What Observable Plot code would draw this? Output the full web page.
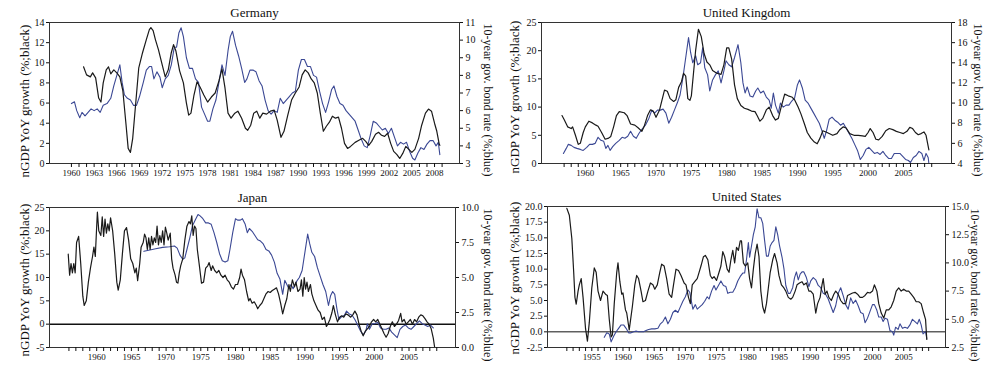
<!DOCTYPE html>
<html><head><meta charset="utf-8">
<script src="https://cdn.jsdelivr.net/npm/d3@7"></script>
<script src="https://cdn.jsdelivr.net/npm/@observablehq/plot@0.6"></script>
<style>
body{margin:0;background:#fff;}
#wrap{position:relative;width:1006px;height:375px;overflow:hidden;background:#fff;}
.p{position:absolute;}
.p svg{overflow:visible;}
.lab{position:absolute;width:220px;height:16px;line-height:16px;text-align:center;white-space:nowrap;
  font-family:'Liberation Serif','DejaVu Serif',serif;color:#111;}
</style></head><body><div id="wrap"></div>
<script>
// ---------- data: [year, value] ----------
const germanyGdp = [[1961.6,9.6],[1962.0,8.8],[1962.5,8.6],[1962.8,9.0],[1963.2,8.5],[1963.6,6.5],[1963.9,6.1],[1964.2,8.0],[1964.6,9.3],[1964.9,9.6],[1965.2,8.9],[1965.6,9.3],[1966.0,9.0],[1966.4,8.6],[1966.8,7.2],[1967.2,4.0],[1967.5,1.5],[1967.8,1.1],[1968.1,2.5],[1968.5,6.0],[1968.9,9.5],[1969.4,11.0],[1969.9,12.3],[1970.3,13.3],[1970.5,13.5],[1970.8,13.2],[1971.1,12.3],[1971.5,11.3],[1972.0,9.8],[1972.4,8.6],[1972.8,9.3],[1973.2,11.0],[1973.5,11.8],[1973.8,11.2],[1974.3,9.2],[1974.8,8.0],[1975.2,6.0],[1975.5,4.8],[1975.8,5.0],[1976.2,6.8],[1976.6,8.1],[1977.0,7.6],[1977.5,6.8],[1978.0,6.1],[1978.5,6.6],[1979.0,7.0],[1979.5,8.2],[1979.9,9.4],[1980.3,7.5],[1980.7,5.0],[1981.1,4.5],[1981.6,5.0],[1982.0,5.2],[1982.5,4.5],[1983.0,3.5],[1983.3,3.3],[1983.7,3.8],[1984.1,5.0],[1984.5,5.2],[1984.9,4.5],[1985.3,5.0],[1985.8,4.9],[1986.3,5.2],[1986.8,5.3],[1987.2,4.3],[1987.7,2.6],[1988.1,3.2],[1988.6,4.8],[1989.1,6.3],[1989.6,7.0],[1990.1,7.6],[1990.5,8.8],[1990.9,9.3],[1991.3,9.0],[1991.7,8.4],[1992.1,8.0],[1992.5,7.0],[1992.9,5.0],[1993.3,3.2],[1993.7,3.7],[1994.1,4.1],[1994.5,4.7],[1994.9,4.5],[1995.3,4.6],[1995.7,3.5],[1996.1,2.0],[1996.5,1.5],[1996.9,1.7],[1997.5,2.1],[1998.0,2.3],[1998.5,2.5],[1998.9,2.2],[1999.3,1.8],[1999.7,2.2],[2000.2,2.9],[2000.6,3.1],[2001.0,2.8],[2001.4,2.7],[2001.8,3.0],[2002.2,2.0],[2002.6,1.2],[2003.0,0.9],[2003.4,0.5],[2003.8,1.0],[2004.2,1.7],[2004.6,1.4],[2005.0,1.1],[2005.4,1.4],[2005.9,2.5],[2006.3,3.8],[2006.8,5.0],[2007.2,5.4],[2007.6,5.2],[2008.0,4.0],[2008.3,3.2],[2008.6,2.0],[2008.7,1.8]];
const germanyBond = [[1960.0,6.4],[1960.4,6.5],[1960.7,6.0],[1961.1,5.6],[1961.4,5.9],[1961.8,5.7],[1962.2,5.9],[1962.6,6.1],[1963.0,6.0],[1963.4,6.1],[1963.8,5.9],[1964.2,6.3],[1964.7,6.4],[1965.2,6.7],[1965.6,7.4],[1966.0,8.0],[1966.4,8.6],[1966.7,7.6],[1967.0,6.9],[1967.4,6.7],[1967.8,6.6],[1968.2,6.3],[1968.6,6.3],[1969.0,6.8],[1969.5,7.6],[1969.9,8.3],[1970.3,8.5],[1970.6,8.5],[1970.9,7.8],[1971.3,8.2],[1971.7,7.9],[1972.0,7.3],[1972.4,7.8],[1972.8,8.0],[1973.2,8.6],[1973.6,9.6],[1973.9,9.6],[1974.2,10.4],[1974.5,10.7],[1974.8,10.2],[1975.2,9.0],[1975.6,8.4],[1976.0,8.4],[1976.4,7.8],[1976.8,7.6],[1977.2,6.2],[1977.6,5.8],[1978.0,5.4],[1978.3,5.4],[1978.7,6.1],[1979.1,6.6],[1979.5,7.6],[1979.9,8.6],[1980.3,8.0],[1980.7,9.4],[1981.0,10.2],[1981.3,10.5],[1981.7,9.7],[1982.1,9.1],[1982.5,8.4],[1982.9,7.6],[1983.2,7.8],[1983.6,8.3],[1984.0,8.3],[1984.4,8.2],[1984.8,7.7],[1985.2,7.4],[1985.6,6.6],[1986.0,6.0],[1986.4,5.8],[1986.8,6.0],[1987.2,5.9],[1987.6,6.7],[1988.0,6.4],[1988.4,6.6],[1988.8,6.8],[1989.2,7.0],[1989.6,7.1],[1990.0,8.3],[1990.4,8.9],[1990.8,8.9],[1991.2,8.5],[1991.6,8.5],[1992.0,8.0],[1992.4,7.9],[1992.8,7.1],[1993.2,6.4],[1993.6,5.9],[1994.0,6.5],[1994.4,7.2],[1994.7,7.4],[1995.1,6.8],[1995.5,6.4],[1995.9,6.3],[1996.3,6.0],[1996.7,5.8],[1997.1,5.6],[1997.5,5.4],[1997.9,4.9],[1998.3,4.4],[1998.7,4.0],[1999.1,3.9],[1999.5,4.6],[1999.9,5.4],[2000.3,5.3],[2000.7,5.1],[2001.1,4.9],[2001.5,5.0],[2001.9,4.7],[2002.3,5.0],[2002.7,4.5],[2003.1,4.0],[2003.5,4.2],[2003.9,4.1],[2004.3,4.2],[2004.7,3.7],[2005.1,3.3],[2005.4,3.2],[2005.8,3.6],[2006.2,3.9],[2006.6,3.8],[2007.0,4.1],[2007.4,4.3],[2007.8,4.3],[2008.2,4.0],[2008.5,4.2],[2008.7,3.5]];

const ukGdp = [[1956.7,8.5],[1957.0,7.8],[1957.5,6.5],[1958.0,6.2],[1958.2,6.5],[1958.6,5.0],[1959.0,3.4],[1959.3,3.6],[1959.7,5.5],[1960.0,6.5],[1960.5,7.5],[1961.0,7.2],[1961.5,6.8],[1961.8,6.6],[1962.3,5.5],[1962.8,4.3],[1963.3,4.5],[1963.6,4.8],[1964.0,6.5],[1964.4,8.5],[1964.8,9.2],[1965.5,9.0],[1965.9,8.5],[1966.4,7.0],[1967.0,6.8],[1967.5,6.3],[1968.0,5.7],[1968.3,6.5],[1968.8,8.5],[1969.2,9.5],[1969.6,9.3],[1970.0,8.2],[1970.5,9.5],[1970.8,11.0],[1971.2,13.0],[1971.6,12.8],[1972.0,11.5],[1972.5,11.0],[1972.8,11.3],[1973.2,13.5],[1973.6,14.5],[1973.9,16.0],[1974.2,15.5],[1974.5,11.5],[1974.8,11.2],[1975.0,12.0],[1975.3,16.0],[1975.6,20.0],[1976.0,23.8],[1976.4,22.5],[1976.8,19.5],[1977.2,18.0],[1977.6,17.5],[1978.0,16.5],[1978.6,16.0],[1979.2,15.8],[1979.6,17.5],[1980.0,20.5],[1980.3,20.5],[1980.7,18.5],[1981.1,14.0],[1981.5,11.5],[1982.0,10.3],[1982.5,9.8],[1983.0,9.6],[1983.5,9.3],[1984.0,9.2],[1984.3,8.5],[1984.7,7.5],[1985.1,8.0],[1985.6,9.5],[1986.0,10.0],[1986.5,8.5],[1986.9,7.7],[1987.3,8.0],[1987.7,10.0],[1988.2,12.3],[1988.7,12.0],[1989.2,11.8],[1989.6,11.3],[1990.1,10.0],[1990.5,8.8],[1991.0,7.0],[1991.4,5.5],[1991.9,4.5],[1992.4,3.8],[1992.8,3.5],[1993.2,4.5],[1993.6,5.8],[1994.2,5.5],[1995.0,5.0],[1995.6,5.3],[1996.0,6.0],[1996.5,6.5],[1996.9,6.3],[1997.4,5.3],[1998.0,5.0],[1998.6,5.0],[1999.2,4.9],[1999.6,4.8],[2000.0,5.5],[2000.3,6.2],[2000.7,5.5],[2001.1,4.3],[2001.5,4.2],[2002.0,4.8],[2002.5,5.8],[2003.0,6.2],[2003.5,6.0],[2004.0,5.7],[2004.5,5.5],[2005.0,5.3],[2005.5,5.7],[2005.9,6.4],[2006.3,6.2],[2006.7,5.5],[2007.1,5.1],[2007.5,5.3],[2007.9,5.6],[2008.2,5.0],[2008.6,2.4]];
const ukBond = [[1956.9,5.0],[1957.3,5.5],[1957.6,5.9],[1958.0,5.8],[1958.4,5.6],[1958.8,5.5],[1959.3,5.4],[1959.7,5.3],[1960.2,5.6],[1960.6,5.9],[1961.0,5.9],[1961.4,6.0],[1961.8,6.6],[1962.2,6.3],[1962.6,6.2],[1962.9,5.5],[1963.2,5.8],[1963.5,5.3],[1963.9,5.7],[1964.3,6.0],[1964.8,6.3],[1965.2,6.6],[1965.6,6.5],[1966.0,6.7],[1966.4,7.2],[1966.8,6.7],[1967.2,6.5],[1967.6,7.0],[1968.0,7.4],[1968.5,7.8],[1969.0,8.5],[1969.4,9.3],[1969.8,9.0],[1970.2,9.3],[1970.6,9.3],[1971.0,9.4],[1971.4,9.0],[1971.8,8.0],[1972.2,8.6],[1972.6,9.3],[1973.0,10.0],[1973.4,10.8],[1973.8,12.5],[1974.2,14.5],[1974.6,16.5],[1974.9,15.0],[1975.2,14.0],[1975.6,14.7],[1975.9,13.8],[1976.3,14.0],[1976.6,15.5],[1976.9,13.5],[1977.3,12.8],[1977.6,11.2],[1978.0,12.3],[1978.4,12.8],[1978.8,13.2],[1979.2,12.0],[1979.6,13.2],[1979.9,14.2],[1980.3,13.8],[1980.7,13.6],[1981.1,14.5],[1981.6,15.8],[1982.0,14.0],[1982.3,12.0],[1982.6,11.0],[1982.9,11.6],[1983.3,10.7],[1983.7,10.6],[1984.1,11.2],[1984.4,11.5],[1984.8,11.0],[1985.2,11.2],[1985.6,10.6],[1986.0,10.3],[1986.3,9.5],[1986.6,11.0],[1986.9,9.8],[1987.3,9.0],[1987.6,10.0],[1988.0,9.6],[1988.4,9.8],[1988.8,9.8],[1989.2,10.2],[1989.6,10.5],[1990.0,11.8],[1990.3,12.3],[1990.7,11.5],[1991.1,10.3],[1991.5,10.0],[1991.9,9.5],[1992.3,9.0],[1992.7,8.5],[1993.1,8.0],[1993.5,7.2],[1993.8,6.5],[1994.1,7.2],[1994.5,8.4],[1994.9,8.6],[1995.3,8.3],[1995.7,8.1],[1996.1,7.8],[1996.5,8.0],[1996.9,7.5],[1997.3,7.0],[1997.7,6.5],[1998.1,5.9],[1998.5,5.3],[1998.9,4.4],[1999.3,4.8],[1999.7,5.4],[2000.1,5.6],[2000.5,5.3],[2000.9,5.0],[2001.3,5.1],[2001.7,4.9],[2002.1,5.2],[2002.5,4.8],[2002.9,4.5],[2003.3,4.5],[2003.7,5.0],[2004.1,5.0],[2004.5,5.0],[2004.9,4.7],[2005.3,4.4],[2005.7,4.3],[2006.0,4.1],[2006.4,4.6],[2006.8,4.8],[2007.2,5.2],[2007.6,5.0],[2007.9,4.3],[2008.2,5.0],[2008.5,4.6],[2008.6,4.0]];

const japanGdp = [[1955.9,15.0],[1956.1,10.5],[1956.3,13.0],[1956.5,11.0],[1956.7,13.0],[1956.9,11.0],[1957.1,17.5],[1957.4,18.8],[1957.7,13.0],[1958.0,6.0],[1958.2,4.0],[1958.5,5.0],[1958.8,9.0],[1959.1,12.0],[1959.4,14.5],[1959.6,16.5],[1959.8,14.5],[1960.0,21.0],[1960.1,24.0],[1960.3,20.0],[1960.6,19.0],[1960.8,23.0],[1961.0,18.8],[1961.2,22.5],[1961.4,19.5],[1961.6,21.5],[1961.8,20.0],[1962.0,22.8],[1962.3,20.0],[1962.6,15.0],[1962.9,9.0],[1963.1,7.3],[1963.4,9.5],[1963.7,15.0],[1964.0,20.0],[1964.3,20.7],[1964.6,18.0],[1964.9,14.0],[1965.2,13.0],[1965.5,11.0],[1965.7,12.0],[1965.9,9.3],[1966.2,13.0],[1966.4,16.5],[1966.7,17.5],[1966.9,19.3],[1967.1,18.5],[1967.3,16.0],[1967.5,18.5],[1967.7,16.0],[1967.9,18.8],[1968.1,17.0],[1968.3,18.5],[1968.5,17.5],[1968.7,21.0],[1968.9,17.0],[1969.1,19.0],[1969.3,17.5],[1969.5,20.0],[1969.7,17.0],[1969.9,20.8],[1970.1,19.5],[1970.3,18.0],[1970.6,19.5],[1970.8,14.0],[1971.0,12.0],[1971.3,10.5],[1971.5,9.0],[1971.7,8.8],[1971.9,11.0],[1972.1,12.5],[1972.4,14.0],[1972.7,18.0],[1973.0,21.0],[1973.3,22.0],[1973.5,21.5],[1973.7,23.2],[1973.9,19.0],[1974.1,21.0],[1974.3,20.5],[1974.5,16.0],[1974.8,12.5],[1975.1,8.8],[1975.4,9.0],[1975.7,12.0],[1976.0,12.5],[1976.2,13.2],[1976.5,11.5],[1976.7,12.5],[1977.0,11.5],[1977.3,11.0],[1977.6,11.5],[1977.9,10.5],[1978.2,10.0],[1978.5,10.5],[1978.8,9.5],[1979.1,9.0],[1979.4,8.0],[1979.7,7.5],[1980.0,8.5],[1980.3,8.5],[1980.6,10.0],[1980.8,11.8],[1981.0,10.5],[1981.3,9.5],[1981.6,7.0],[1981.9,5.0],[1982.1,5.5],[1982.4,4.5],[1982.7,4.8],[1983.0,4.0],[1983.2,3.3],[1983.5,4.0],[1983.8,4.5],[1984.1,5.5],[1984.4,6.5],[1984.7,7.0],[1985.0,6.8],[1985.3,7.2],[1985.6,7.5],[1985.9,7.8],[1986.2,6.5],[1986.5,4.5],[1986.8,2.2],[1987.1,4.0],[1987.4,5.5],[1987.7,8.5],[1987.9,7.0],[1988.2,9.5],[1988.5,8.0],[1988.7,9.0],[1989.0,7.0],[1989.3,7.5],[1989.5,9.5],[1989.7,6.0],[1989.9,10.0],[1990.1,7.5],[1990.3,9.0],[1990.5,7.0],[1990.8,8.5],[1991.0,6.5],[1991.3,5.0],[1991.6,4.0],[1991.9,3.0],[1992.2,2.5],[1992.5,1.0],[1992.8,1.5],[1993.1,-0.5],[1993.3,0.0],[1993.6,1.0],[1993.9,2.5],[1994.1,4.0],[1994.4,2.0],[1994.7,0.5],[1995.0,1.5],[1995.3,1.8],[1995.6,1.5],[1995.9,2.2],[1996.2,2.0],[1996.6,1.5],[1996.9,2.0],[1997.2,2.8],[1997.5,2.0],[1997.8,0.0],[1998.1,-1.5],[1998.4,-2.5],[1998.7,-1.5],[1999.0,-1.0],[1999.3,-0.5],[1999.6,0.5],[1999.9,1.0],[2000.2,0.5],[2000.5,1.0],[2000.8,0.0],[2001.1,-1.0],[2001.4,-2.0],[2001.7,-2.8],[2002.0,-2.0],[2002.3,-0.5],[2002.6,0.5],[2002.9,-0.5],[2003.2,0.0],[2003.5,0.8],[2003.8,2.3],[2004.0,0.5],[2004.3,1.0],[2004.6,0.0],[2004.9,0.5],[2005.2,1.0],[2005.5,0.0],[2005.8,1.0],[2006.1,0.5],[2006.4,1.5],[2006.7,2.0],[2007.0,1.8],[2007.3,1.2],[2007.6,0.5],[2007.9,0.0],[2008.2,-1.0],[2008.5,-3.0],[2008.7,-5.0]];
const japanBond = [[1966.8,6.87],[1967.5,6.95],[1968.5,7.05],[1969.5,7.15],[1970.5,7.2],[1971.2,7.25],[1971.6,7.1],[1972.0,6.6],[1972.4,6.3],[1972.7,6.4],[1973.0,7.0],[1973.4,7.8],[1973.8,8.7],[1974.2,9.1],[1974.6,9.5],[1974.9,9.4],[1975.3,9.2],[1975.7,8.9],[1976.1,8.9],[1976.5,8.8],[1976.9,8.2],[1977.3,7.5],[1977.7,6.7],[1978.1,6.2],[1978.5,6.1],[1978.9,6.2],[1979.2,7.0],[1979.6,8.2],[1980.0,9.2],[1980.3,9.1],[1980.7,9.1],[1981.0,9.2],[1981.4,8.8],[1981.7,8.2],[1982.0,8.5],[1982.4,8.3],[1982.8,8.0],[1983.2,7.7],[1983.6,7.6],[1984.0,7.4],[1984.4,7.0],[1984.8,6.9],[1985.2,6.6],[1985.6,6.1],[1986.0,5.3],[1986.4,4.9],[1986.8,3.8],[1987.1,4.8],[1987.4,4.5],[1987.7,4.2],[1988.0,4.5],[1988.3,4.2],[1988.6,4.5],[1988.9,4.8],[1989.2,5.0],[1989.6,5.5],[1990.0,6.8],[1990.4,8.1],[1990.7,7.4],[1991.0,6.8],[1991.4,6.5],[1991.8,5.7],[1992.2,5.1],[1992.6,4.5],[1993.0,4.0],[1993.4,3.0],[1993.7,3.7],[1994.0,4.0],[1994.3,3.8],[1994.6,2.8],[1994.9,2.0],[1995.3,2.2],[1995.7,2.3],[1996.0,2.6],[1996.4,2.4],[1996.8,2.3],[1997.2,2.0],[1997.6,1.6],[1998.0,1.2],[1998.4,0.9],[1998.8,1.2],[1999.0,1.7],[1999.3,1.3],[1999.7,1.7],[2000.1,1.7],[2000.5,1.8],[2000.9,1.4],[2001.3,1.3],[2001.7,1.3],[2002.1,1.4],[2002.5,1.1],[2002.9,0.9],[2003.3,0.7],[2003.7,1.3],[2004.1,1.5],[2004.5,1.6],[2004.9,1.4],[2005.3,1.3],[2005.7,1.5],[2006.1,1.7],[2006.5,1.9],[2006.9,1.7],[2007.3,1.6],[2007.7,1.5],[2008.1,1.6],[2008.5,1.4]];

const usGdp = [[1951.0,19.7],[1951.4,18.6],[1951.8,14.9],[1952.1,9.5],[1952.3,5.5],[1952.5,4.4],[1952.8,6.5],[1953.0,7.5],[1953.3,8.5],[1953.6,5.5],[1954.0,0.5],[1954.3,-1.5],[1954.6,1.5],[1955.0,7.0],[1955.4,10.2],[1955.7,9.5],[1956.0,6.5],[1956.4,5.0],[1956.8,6.5],[1957.2,6.0],[1957.5,5.8],[1957.8,2.0],[1958.1,-0.8],[1958.3,-0.5],[1958.6,4.5],[1959.0,9.5],[1959.2,11.0],[1959.5,8.0],[1959.8,6.0],[1960.0,6.2],[1960.4,3.5],[1960.6,3.0],[1961.0,0.3],[1961.5,4.0],[1961.9,7.5],[1962.2,9.0],[1962.5,8.5],[1962.9,6.5],[1963.2,4.8],[1963.6,5.0],[1964.0,6.5],[1964.4,7.8],[1964.8,7.5],[1965.1,6.8],[1965.5,7.5],[1965.9,9.5],[1966.2,10.8],[1966.6,10.5],[1967.0,8.5],[1967.4,6.0],[1967.8,5.5],[1968.1,7.5],[1968.5,10.0],[1968.9,9.8],[1969.3,9.0],[1969.8,7.8],[1970.1,7.5],[1970.5,5.5],[1970.8,4.5],[1971.1,7.5],[1971.5,8.0],[1971.9,8.5],[1972.2,9.5],[1972.5,10.5],[1972.9,12.0],[1973.2,12.2],[1973.6,11.5],[1974.0,9.0],[1974.3,8.5],[1974.6,8.8],[1975.0,8.2],[1975.4,9.5],[1975.7,10.5],[1976.0,12.8],[1976.3,12.0],[1976.7,10.0],[1977.0,9.5],[1977.3,11.5],[1977.6,13.0],[1977.9,11.0],[1978.2,13.5],[1978.5,13.0],[1978.8,14.5],[1979.0,14.5],[1979.3,11.0],[1979.6,10.5],[1980.0,11.0],[1980.3,8.5],[1980.6,7.0],[1980.9,10.0],[1981.2,12.5],[1981.5,14.0],[1981.8,12.0],[1982.1,6.5],[1982.4,4.0],[1982.7,3.0],[1983.0,4.5],[1983.3,7.0],[1983.6,9.5],[1984.0,11.5],[1984.3,12.5],[1984.7,11.0],[1985.0,9.0],[1985.4,7.5],[1985.8,7.0],[1986.1,6.5],[1986.5,5.5],[1986.9,5.2],[1987.2,5.5],[1987.6,6.5],[1987.9,7.5],[1988.3,7.8],[1988.7,8.0],[1989.0,7.5],[1989.4,7.8],[1989.8,6.5],[1990.1,6.5],[1990.5,6.0],[1990.9,3.0],[1991.2,4.5],[1991.6,5.5],[1991.9,7.5],[1992.1,8.5],[1992.4,6.0],[1992.7,6.5],[1993.0,5.5],[1993.4,5.0],[1993.8,6.0],[1994.1,6.5],[1994.5,6.0],[1994.9,5.0],[1995.3,4.5],[1995.7,4.5],[1996.0,5.8],[1996.4,6.0],[1996.8,6.2],[1997.2,6.3],[1997.6,6.0],[1998.0,5.5],[1998.4,5.5],[1998.8,5.8],[1999.2,6.3],[1999.6,6.2],[2000.0,6.5],[2000.3,7.5],[2000.7,6.5],[2001.0,4.5],[2001.4,3.0],[2001.8,2.2],[2002.2,3.5],[2002.6,3.5],[2003.0,4.0],[2003.4,5.0],[2003.8,6.5],[2004.2,7.0],[2004.6,6.5],[2005.0,6.8],[2005.4,6.5],[2005.8,6.5],[2006.2,6.0],[2006.6,5.5],[2007.0,4.8],[2007.4,4.8],[2007.8,4.5],[2008.2,3.0],[2008.5,2.0],[2008.7,-1.2]];
const usBond = [[1957.0,3.4],[1957.4,3.8],[1957.8,3.7],[1958.1,3.0],[1958.5,3.5],[1958.9,3.9],[1959.3,4.2],[1959.7,4.5],[1960.1,4.5],[1960.5,4.2],[1960.9,3.8],[1961.3,3.8],[1961.7,3.9],[1962.1,3.95],[1962.5,3.9],[1962.9,3.9],[1963.3,3.9],[1963.7,4.0],[1964.1,4.1],[1964.6,4.15],[1965.1,4.15],[1965.6,4.2],[1966.0,4.6],[1966.4,4.8],[1966.8,5.2],[1967.2,4.6],[1967.6,5.0],[1968.0,5.6],[1968.4,5.8],[1968.8,5.6],[1969.2,6.1],[1969.6,6.6],[1970.0,7.0],[1970.4,7.6],[1970.7,7.4],[1971.0,6.5],[1971.2,5.9],[1971.6,6.3],[1971.9,5.9],[1972.3,6.1],[1972.7,6.3],[1973.1,6.6],[1973.5,7.0],[1973.8,6.8],[1974.2,7.5],[1974.6,8.0],[1974.9,7.6],[1975.3,8.0],[1975.7,8.4],[1976.1,8.0],[1976.5,7.9],[1976.8,7.3],[1977.2,7.4],[1977.6,7.4],[1978.0,7.8],[1978.4,8.4],[1978.8,8.8],[1979.2,9.1],[1979.5,9.1],[1979.8,10.3],[1980.1,11.8],[1980.3,10.5],[1980.6,11.5],[1980.9,12.5],[1981.2,13.2],[1981.5,14.8],[1981.8,14.0],[1982.1,14.0],[1982.4,13.5],[1982.7,12.0],[1983.0,10.6],[1983.3,10.6],[1983.6,11.5],[1983.9,11.8],[1984.2,12.0],[1984.5,13.2],[1984.8,12.5],[1985.1,11.5],[1985.5,10.5],[1985.8,9.5],[1986.1,8.0],[1986.5,7.3],[1986.8,7.3],[1987.2,7.8],[1987.5,8.7],[1987.8,9.2],[1988.1,8.5],[1988.4,9.0],[1988.7,9.2],[1989.0,9.2],[1989.4,8.7],[1989.8,7.9],[1990.1,8.4],[1990.5,8.7],[1990.9,8.5],[1991.3,8.0],[1991.7,7.8],[1992.1,7.3],[1992.5,7.2],[1992.9,6.8],[1993.3,6.2],[1993.7,5.6],[1994.1,6.2],[1994.5,7.3],[1994.9,7.8],[1995.3,7.1],[1995.7,6.3],[1996.1,5.9],[1996.5,6.9],[1996.9,6.4],[1997.3,6.7],[1997.7,6.2],[1998.1,5.6],[1998.5,5.5],[1998.8,4.7],[1999.2,5.1],[1999.6,5.7],[2000.0,6.3],[2000.3,6.3],[2000.7,5.8],[2001.0,5.2],[2001.4,5.2],[2001.7,4.8],[2002.0,5.1],[2002.4,5.0],[2002.8,4.0],[2003.2,3.9],[2003.4,3.6],[2003.7,4.3],[2004.1,4.1],[2004.4,4.6],[2004.8,4.2],[2005.2,4.3],[2005.6,4.2],[2006.0,4.5],[2006.4,5.0],[2006.8,4.8],[2007.2,4.6],[2007.5,5.0],[2007.8,4.5],[2008.1,3.7],[2008.5,3.9],[2008.7,3.3]];

// ---------- tick values / labels ----------
const germanyXLabels = d3.range(1960, 2009, 3);
const fiveYearLabels = d3.range(1955, 2006, 5);
const germanyLeftTicks = [0,2,4,6,8,10,12,14];
const germanyRightTicks = [3,4,5,6,7,8,9,10,11];
const ukLeftTicks = [0,5,10,15,20,25];
const ukRightTicks = [4,6,8,10,12,14,16,18];
const japanLeftTicks = [-5,0,5,10,15,20,25];
const japanRightTicks = [0,2.5,5,7.5,10];
const usLeftTicks = [-2.5,0,2.5,5,7.5,10,12.5,15,17.5,20];
const usRightTicks = [2.5,5,7.5,10,12.5,15];
const titles = ["Germany", "United Kingdom", "Japan", "United States"];
const leftLabel = "nGDP YoY growth (%;black)";
const rightLabel = "10-year gov. bond rate (%;blue)";

const BLUE = "#3b4894";
const FONT = "'Liberation Serif', 'DejaVu Serif', serif";
const intF = d => String(Math.round(d));
const oneF = d => (Math.round(d * 100) / 100).toFixed(1);
const wrap = document.getElementById("wrap");

function addLabel(text, cx, cy, angle, size) {
  const el = document.createElement("div");
  el.className = "lab";
  el.textContent = text;
  el.style.left = (cx - 110) + "px";
  el.style.top = (cy - 8) + "px";
  el.style.fontSize = size + "px";
  el.style.transform = `rotate(${angle}deg)`;
  wrap.appendChild(el);
}

function panel(c) {
  const [l0, l1] = c.left, [r0, r1] = c.right;
  const toL = v => l0 + (v - r0) / (r1 - r0) * (l1 - l0);
  const toR = v => r0 + (v - l0) / (l1 - l0) * (r1 - r0);
  const years = d3.range(c.tickFrom, c.tickTo + 1);
  const lab = new Set(c.xLabels);
  const svg = Plot.plot({
    width: 503, height: c.height,
    marginTop: c.m[0], marginRight: c.m[1], marginBottom: c.m[2], marginLeft: c.m[3],
    style: {fontFamily: FONT, fontSize: "9px", background: "transparent", color: "#111"},
    x: {domain: c.xDomain},
    y: {domain: c.left},
    marks: [
      c.zero ? Plot.ruleY([0], {stroke: "#111", strokeWidth: c.zeroW}) : null,
      Plot.line(c.bond, {x: d => d[0], y: d => toL(d[1]), stroke: BLUE, strokeWidth: 1.1}),
      Plot.line(c.gdp, {x: d => d[0], y: d => d[1], stroke: "#1a1a1a", strokeWidth: 1.2}),
      Plot.frame({stroke: "#333", strokeWidth: 1}),
      Plot.axisX(years, {tickSize: 4, tickPadding: 2, tickFormat: d => lab.has(d) ? String(d) : "", label: null, fontSize: 9}),
      Plot.axisY(c.leftTicks, {anchor: "left", tickSize: 3, tickPadding: 2, tickFormat: c.fmtL, label: null, fontSize: 10}),
      Plot.axisY(c.rightTicks.map(toL), {anchor: "right", tickSize: 3, tickPadding: 3, tickFormat: d => c.fmtR(toR(d)), label: null, fontSize: 10}),
      Plot.text([c.title], {text: d => d, frameAnchor: "top", dy: -10, lineAnchor: "middle", fontSize: 13})
    ]
  });
  const div = document.createElement("div");
  div.className = "p";
  div.style.left = c.pos[0] + "px";
  div.style.top = c.pos[1] + "px";
  div.appendChild(svg);
  wrap.appendChild(div);
  addLabel(leftLabel, c.lab[0], c.lab[1], -90, 13);
  addLabel(rightLabel, c.lab[2], c.lab[3], 90, 12);
}

panel({title: titles[0], gdp: germanyGdp, bond: germanyBond, pos: [0, 0], height: 185, m: [22, 44, 22, 49],
  xDomain: [1957.1, 2011.3], left: [0, 14], right: [3, 11], tickFrom: 1960, tickTo: 2009, xLabels: germanyXLabels,
  leftTicks: germanyLeftTicks, rightTicks: germanyRightTicks, fmtL: intF, fmtR: intF, lab: [25, 101, 488, 100]});
panel({title: titles[1], gdp: ukGdp, bond: ukBond, pos: [503, 0], height: 185, m: [22, 55, 22, 38],
  xDomain: [1953.8, 2011.8], left: [0, 25], right: [4, 18], tickFrom: 1957, tickTo: 2009, xLabels: fiveYearLabels.filter(d => d >= 1960),
  leftTicks: ukLeftTicks, rightTicks: ukRightTicks, fmtL: intF, fmtR: intF, lab: [515, 97, 978, 100]});
panel({title: titles[2], gdp: japanGdp, bond: japanBond, pos: [0, 185], height: 190, m: [22, 48, 28, 49],
  xDomain: [1953.2, 2011.7], left: [-5, 25], right: [0, 10], tickFrom: 1956, tickTo: 2009, xLabels: fiveYearLabels.filter(d => d >= 1960),
  leftTicks: japanLeftTicks, rightTicks: japanRightTicks, fmtL: intF, fmtR: oneF, lab: [25, 280, 488, 285], zero: true, zeroW: 1.5});
panel({title: titles[3], gdp: usGdp, bond: usBond, pos: [503, 185], height: 190, m: [21, 61, 28, 44],
  xDomain: [1947.9, 2011.7], left: [-2.5, 20], right: [2.5, 15], tickFrom: 1951, tickTo: 2009, xLabels: fiveYearLabels,
  leftTicks: usLeftTicks, rightTicks: usRightTicks, fmtL: oneF, fmtR: oneF, lab: [515, 278, 975, 285], zero: true, zeroW: 1});
</script></body></html>
